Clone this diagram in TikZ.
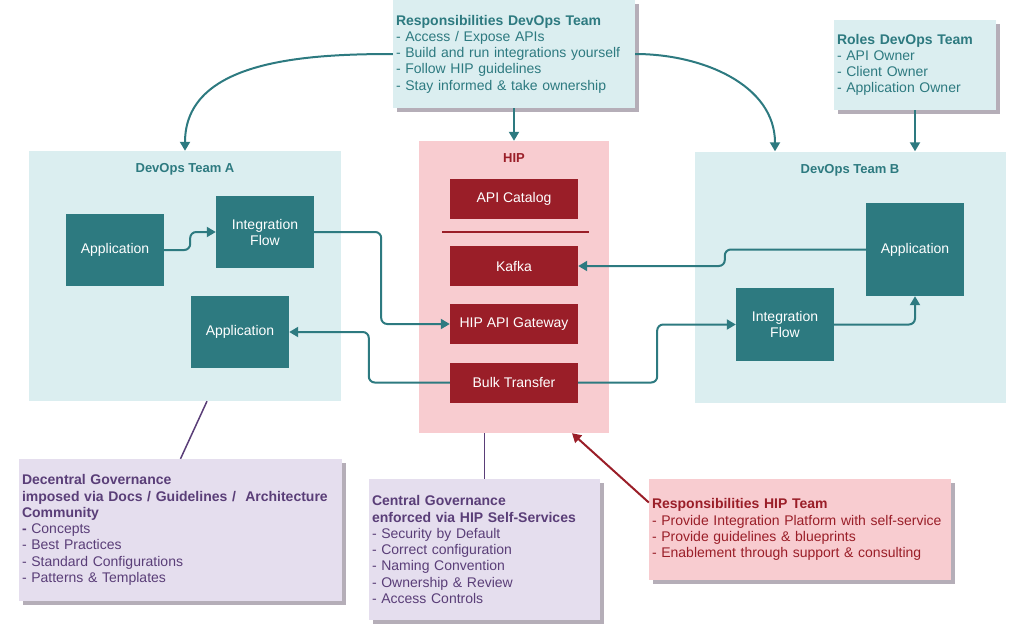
\documentclass[tikz,border=0pt]{standalone}
\usepackage{xcolor}
\usepackage{fontspec}
\setmainfont{Liberation Sans}
\usepackage{tikz}
\usetikzlibrary{calc,arrows.meta,shadows}
\definecolor{teamteal}{RGB}{45,122,128}
\definecolor{teamlight}{RGB}{219,238,240}
\definecolor{hippink}{RGB}{248,204,208}
\definecolor{hipred}{RGB}{154,30,40}
\definecolor{govlilac}{RGB}{229,222,238}
\definecolor{govpurple}{RGB}{90,62,120}
\definecolor{shadowgray}{RGB}{181,174,184}
\tikzset{>={Triangle[length=9pt,width=10pt]},
  team/.style={fill=teamlight, inner sep=0pt},
  hipzone/.style={fill=hippink, inner sep=0pt},
  title/.style={font=\bfseries\fontsize{13}{16}\selectfont},
  appbox/.style={fill=teamteal, text=white, minimum width=98pt, align=center, font=\fontsize{14}{16}\selectfont},
  hipbox/.style={fill=hipred, text=white, minimum width=128pt, minimum height=40pt, font=\fontsize{14}{16}\selectfont},
  note/.style={align=left, inner xsep=3pt, font=\fontsize{14}{16.25}\selectfont,
    drop shadow={shadow xshift=4pt, shadow yshift=-4pt, fill=shadowgray, opacity=1}},
  flow/.style={teamteal, line width=2pt, ->, rounded corners=6pt},
  govline/.style={govpurple, line width=1.5pt}}

\begin{document}
\begin{tikzpicture}[x=1pt,y=1pt]
  \useasboundingbox (0,0) rectangle (1025,-640);

  % Containers
  \node[team, minimum width=312pt, minimum height=250pt] at (185,-276) (teamA) {};
  \node[title, text=teamteal] at ([yshift=-19pt]teamA.north) (titleA) {DevOps Team A};
  \node[team, minimum width=311pt, minimum height=251pt] at (850,-277) (teamB) {};
  \node[title, text=teamteal] at ([yshift=-19pt]teamB.north) (titleB) {DevOps Team B};
  \node[hipzone, minimum width=190pt, minimum height=292pt] at (514,-287) (hip) {};
  \node[title, text=hipred] at ([yshift=-17pt]hip.north) (titleH) {HIP};

  % Team boxes
  \node[appbox, minimum height=72pt] at (115,-250) (appA1) {Application};
  \node[appbox, minimum height=72pt] at (265,-232) (flowA) {Integration\\Flow};
  \node[appbox, minimum height=72pt] at (240,-332) (appA2) {Application};
  \node[appbox, minimum height=93pt] at (915,-249.5) (appB) {Application};
  \node[appbox, minimum height=73pt] at (785,-324.5) (flowB) {Integration\\Flow};

  % HIP boxes
  \node[hipbox] at (514,-199) (catalog) {API Catalog};
  \draw[hipred, line width=1.5pt] (442,-232) -- (589,-232);
  \node[hipbox] at (514,-266) (kafka) {Kafka};
  \node[hipbox] at (514,-324) (gateway) {HIP API Gateway};
  \node[hipbox] at (514,-382.5) (bulk) {Bulk Transfer};

  % Notes
  \node[note, fill=teamlight, text=teamteal, text width=236pt, minimum height=108pt] at (514,-54) (devopsnote)
    {\textbf{Responsibilities DevOps Team}\\- Access / Expose APIs\\- Build and run integrations yourself\\- Follow HIP guidelines\\- Stay informed \& take ownership};
  \node[note, fill=teamlight, text=teamteal, text width=156pt, minimum height=90pt] at (915,-65) (roles)
    {\textbf{Roles DevOps Team}\\- API Owner\\- Client Owner\\- Application Owner};
  \node[note, fill=govlilac, text=govpurple, text width=317pt, minimum height=142pt] at (180.5,-530) (decnote)
    {\textbf{Decentral Governance}\\\textbf{imposed via Docs / Guidelines /~ Architecture}\\\textbf{Community}\\\textbf{-} Concepts\\- Best Practices\\- Standard Configurations\\- Patterns \& Templates};
  \node[note, fill=govlilac, text=govpurple, text width=225pt, minimum height=141pt] at (484.5,-549.5) (cgov)
    {\textbf{Central Governance}\\\textbf{enforced via HIP Self-Services}\\- Security by Default\\- Correct configuration\\- Naming Convention\\- Ownership \& Review\\- Access Controls};
  \node[note, fill=hippink, text=hipred, text width=296pt, minimum height=101pt] at (800,-529.5) (hipnote)
    {\textbf{Responsibilities HIP Team}\\- Provide Integration Platform with self-service\\- Provide guidelines \& blueprints\\- Enablement through support \& consulting};

  % Responsibilities
  \draw[flow] (devopsnote.west) to[out=180,in=90] (teamA.north);
  \draw[flow] (devopsnote.east) to[out=0,in=90] ([xshift=-75pt]teamB.north);
  \draw[flow] (devopsnote.south) -- (devopsnote.south |- hip.north);
  \draw[flow] (roles.south) -- (roles.south |- teamB.north);

  % Flows
  \draw[flow] (appA1.east) -- ++(26,0) |- (flowA.west);
  \draw[flow] (flowA.east) -- ++(67,0) |- (gateway.west);
  \draw[flow] (bulk.west) -- ++(-81,0) |- (appA2.east);
  \draw[flow] (bulk.east) -- ++(79,0) |- (flowB.west);
  \draw[flow] (appB.west) -- ++(-141,0) |- (kafka.east);
  \draw[flow] (flowB.east) -| (appB.south);

  % Governance
  \draw[govline] ([xshift=22pt]teamA.south) -- (decnote.north);
  \draw[govline] (cgov.north |- hip.south) -- (cgov.north);
  \draw[hipred, line width=2pt, ->] ([yshift=27pt]hipnote.west) -- ([xshift=58pt]hip.south);
\end{tikzpicture}
\end{document}
